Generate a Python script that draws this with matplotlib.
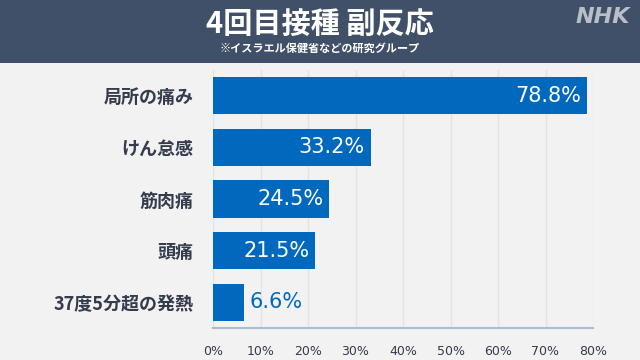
import matplotlib.pyplot as plt
from matplotlib.patches import Rectangle

plt.rcParams['font.family'] = ['Noto Sans CJK JP', 'DejaVu Sans']

# データ
categories = ['局所の痛み', 'けん怠感', '筋肉痛', '頭痛', '37度5分超の発熱']
values = [78.8, 33.2, 24.5, 21.5, 6.6]
ticks = [0, 10, 20, 30, 40, 50, 60, 70, 80]
tick_labels = [f'{t}%' for t in ticks]

bar_color = '#0069be'
text_color = '#333b4d'
bg = '#f2f2f2'

fig = plt.figure(figsize=(6.4, 3.6), dpi=100, facecolor=bg)

# ヘッダー帯
fig.patches.append(Rectangle((0, 1 - 63 / 360), 1, 63 / 360, transform=fig.transFigure,
                             facecolor='#3f5068', edgecolor='none', zorder=0))
fig.text(0.5, 1 - 24 / 360, '4回目接種 副反応', ha='center', va='center',
         fontsize=21, fontweight='bold', color='white')
fig.text(0.5, 1 - 48 / 360, '※イスラエル保健省などの研究グループ', ha='center', va='center',
         fontsize=8, fontweight='bold', color='white')
fig.text(0.985, 1 - 17 / 360, 'NHK', ha='right', va='center', fontsize=16,
         fontweight='bold', style='italic', color='#b9bfc8', family='DejaVu Sans')

ax = fig.add_axes([213 / 640, 1 - 328 / 360, 380 / 640, 258 / 360])
ax.set_facecolor(bg)

y = list(range(len(categories)))
ax.barh(y, values, height=0.72, color=bar_color, zorder=3)
ax.set_xlim(0, 80)
ax.set_ylim(4.5, -0.5)

for yi, v in zip(y, values):
    label = f'{v}%'
    if v > 15:
        ax.text(v - 1.2, yi, label, ha='right', va='center', color='white',
                fontsize=15, family='DejaVu Sans', zorder=4)
    else:
        ax.text(v + 1.0, yi, label, ha='left', va='center', color=bar_color,
                fontsize=15, family='DejaVu Sans', zorder=4)

ax.set_yticks(y)
ax.set_yticklabels(categories, fontsize=13, fontweight='bold', color=text_color)
ax.set_xticks(ticks)
ax.set_xticklabels(tick_labels, fontsize=9, color=text_color, family='DejaVu Sans')
ax.tick_params(axis='both', length=0)
ax.tick_params(axis='y', pad=14)
ax.tick_params(axis='x', pad=12)

ax.grid(axis='x', color='#e3e3e3', linewidth=1, zorder=0)
for s in ['top', 'right', 'left']:
    ax.spines[s].set_visible(False)
ax.spines['bottom'].set_color('#a9bcd6')
ax.spines['bottom'].set_linewidth(1.5)

plt.savefig('out.png', dpi=100, facecolor=bg)
